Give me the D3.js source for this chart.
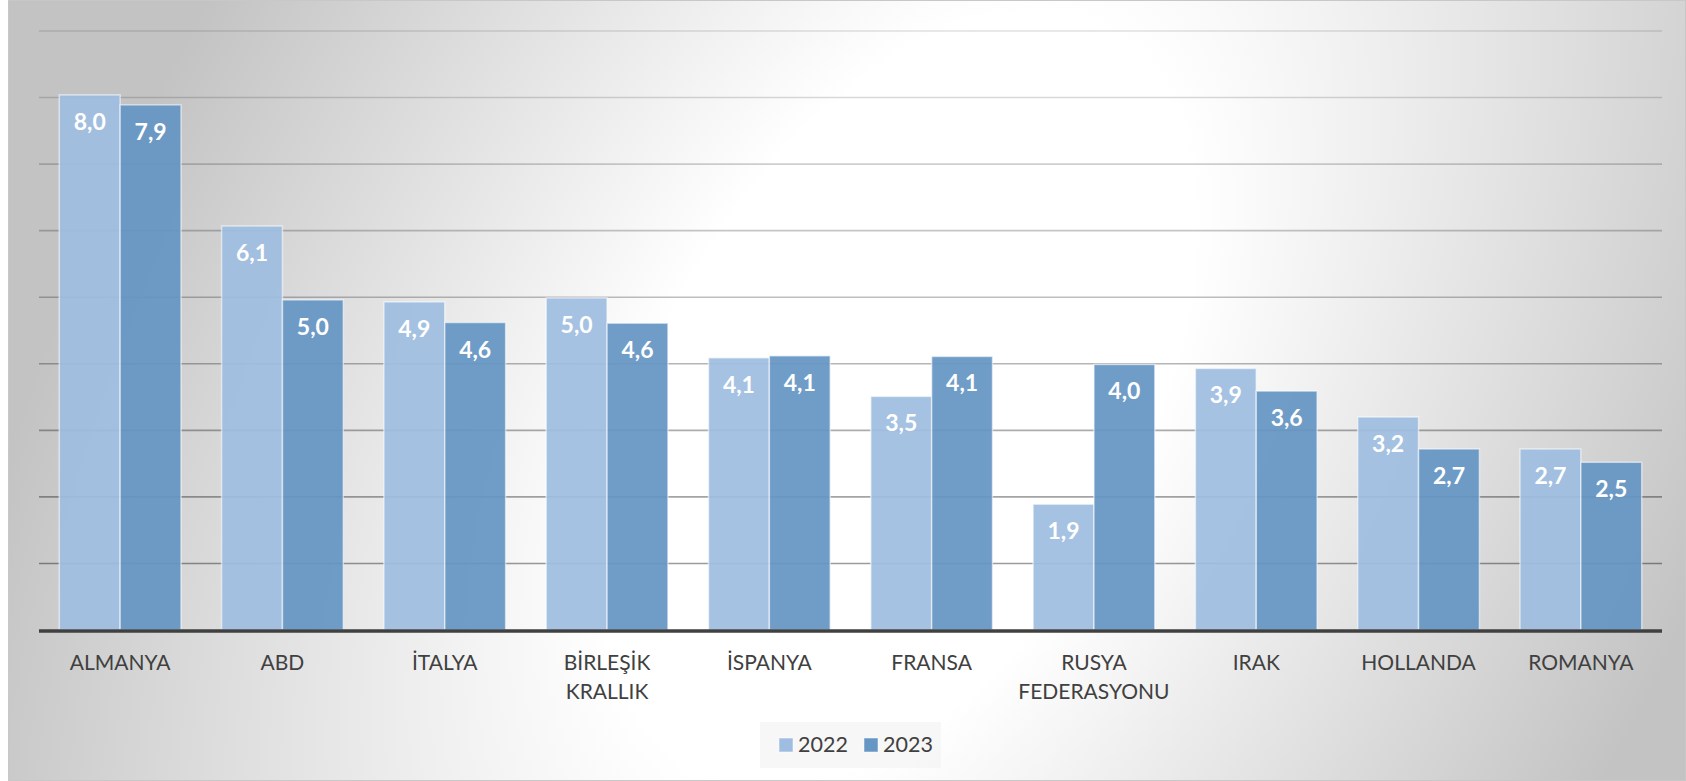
<!DOCTYPE html>
<html>
<head>
<meta charset="utf-8">
<script src="https://cdn.jsdelivr.net/npm/d3@7"></script>
<style>
  html, body { margin: 0; padding: 0; background: #fff; }
  svg { display: block; }
  text { font-family: Lato, "Open Sans", sans-serif; }
</style>
</head>
<body>
<div id="chart"></div>
<script>
const width = 1686;
const height = 781;

// chart data
const categories = ["ALMANYA", "ABD", "İTALYA", "BİRLEŞİK KRALLIK", "İSPANYA", "FRANSA", "RUSYA FEDERASYONU", "IRAK", "HOLLANDA", "ROMANYA"];
const seriesNames = ["2022", "2023"];
const values2022 = [8.04, 6.07, 4.93, 4.99, 4.09, 3.51, 1.89, 3.93, 3.2, 2.72];
const values2023 = [7.89, 4.96, 4.62, 4.61, 4.12, 4.11, 3.99, 3.59, 2.72, 2.52];
const gridValues = [1, 2, 3, 4, 5, 6, 7, 8, 9];

const colors = { "2022": "#9fbde0", "2023": "#6596c4" };

const rows = categories.map((c, i) => ({ name: c, "2022": values2022[i], "2023": values2023[i] }));

const svg = d3.select("#chart").append("svg")
    .attr("width", width)
    .attr("height", height);

// background gradient (light in the middle, grey towards the corners)
const defs = svg.append("defs");
const grad = defs.append("radialGradient")
    .attr("id", "bg")
    .attr("gradientUnits", "userSpaceOnUse")
    .attr("cx", 0).attr("cy", 0).attr("r", 1)
    .attr("gradientTransform", "translate(900,400) rotate(119.4) scale(1400,800)");
grad.append("stop").attr("offset", 0).attr("stop-color", "#ffffff");
grad.append("stop").attr("offset", 0.3).attr("stop-color", "#ffffff");
grad.append("stop").attr("offset", 1).attr("stop-color", "#c3c3c3");

svg.append("rect")
    .attr("x", 8.5).attr("y", 0.5)
    .attr("width", width - 9).attr("height", height - 1)
    .attr("fill", "url(#bg)")
    .attr("stroke", "#c8c8c8")
    .attr("stroke-width", 1);

const plotLeft = 39, plotRight = 1662;

const x = d3.scaleBand()
    .domain(categories)
    .range([plotLeft, plotRight])
    .paddingInner(0.25)
    .paddingOuter(0.125);

const xSub = d3.scaleBand()
    .domain(seriesNames)
    .range([0, x.bandwidth()]);

const y = d3.scaleLinear()
    .domain([0, 9])
    .range([630, 31]);

// gridlines, darker towards the bottom
svg.append("g").selectAll("line")
    .data(gridValues)
    .enter().append("line")
    .attr("x1", plotLeft).attr("x2", plotRight)
    .attr("y1", d => y(d)).attr("y2", d => y(d))
    .attr("stroke", "#000")
    .attr("stroke-opacity", d => 0.12 + 0.034 * (9 - d))
    .attr("stroke-width", 1.6);

// bars
const groups = svg.append("g").selectAll("g")
    .data(rows)
    .enter().append("g")
    .attr("transform", d => `translate(${x(d.name)},0)`);

groups.selectAll("rect")
    .data(d => seriesNames.map(s => ({ key: s, value: d[s] })))
    .enter().append("rect")
    .attr("x", d => xSub(d.key))
    .attr("y", d => y(d.value))
    .attr("width", xSub.bandwidth())
    .attr("height", d => y(0) - y(d.value))
    .attr("fill", d => colors[d.key])
    .attr("fill-opacity", 0.93)
    .attr("stroke", "#ffffff")
    .attr("stroke-opacity", 0.55)
    .attr("stroke-width", 1.5);

const fmt = v => d3.format(".1f")(v).replace(".", ",");

groups.selectAll("text")
    .data(d => seriesNames.map(s => ({ key: s, value: d[s] })))
    .enter().append("text")
    .attr("x", d => xSub(d.key) + xSub.bandwidth() / 2)
    .attr("y", d => y(d.value) + 35)
    .attr("text-anchor", "middle")
    .attr("fill", "#ffffff")
    .attr("font-weight", "bold")
    .attr("font-size", "23px")
    .text(d => fmt(d.value));

// x axis baseline
svg.append("line")
    .attr("x1", plotLeft).attr("x2", plotRight)
    .attr("y1", 631).attr("y2", 631)
    .attr("stroke", "#404040")
    .attr("stroke-width", 3.5);

// category labels (two-word names wrap onto two lines)
svg.append("g").selectAll("text")
    .data(categories)
    .enter().append("text")
    .attr("text-anchor", "middle")
    .attr("fill", "#404040")
    .attr("font-size", "21px")
    .each(function(d) {
        const lines = d.split(" ");
        const t = d3.select(this);
        lines.forEach((ln, i) => {
            t.append("tspan")
                .attr("x", x(d) + x.bandwidth() / 2)
                .attr("y", 670 + i * 29)
                .text(ln);
        });
    });

// legend
const legend = svg.append("g");
legend.append("rect")
    .attr("x", 760).attr("y", 722)
    .attr("width", 181).attr("height", 46)
    .attr("fill", "#f4f4f4")
    .attr("fill-opacity", 0.7);

const legendX = [779, 864];
seriesNames.forEach((s, i) => {
    legend.append("rect")
        .attr("x", legendX[i]).attr("y", 738)
        .attr("width", 14).attr("height", 14)
        .attr("fill", colors[s])
        .attr("stroke", "#ffffff")
        .attr("stroke-opacity", 0.5);
    legend.append("text")
        .attr("x", legendX[i] + 19).attr("y", 752)
        .attr("fill", "#404040")
        .attr("font-size", "21.5px")
        .text(s);
});
</script>
</body>
</html>
